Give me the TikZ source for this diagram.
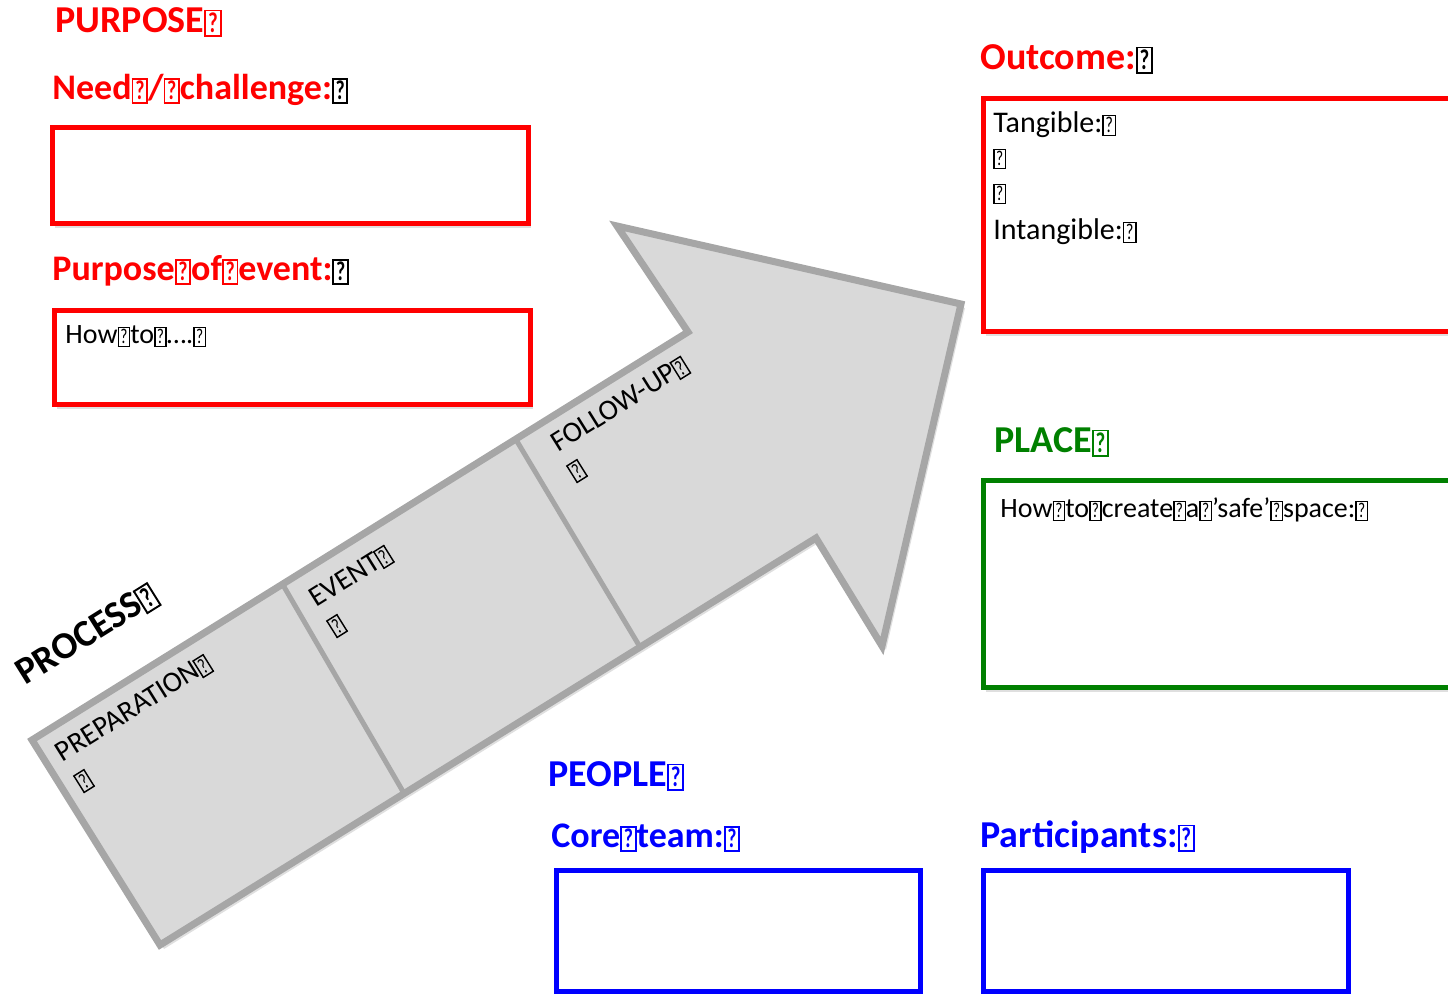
\documentclass[tikz,border=0pt]{standalone}
\usepackage{fontspec}
\setmainfont{Carlito}
\usepackage{graphicx}
\usetikzlibrary{shadows}

\definecolor{purposered}{RGB}{255,0,0}
\definecolor{placegreen}{RGB}{0,128,0}
\definecolor{peopleblue}{RGB}{0,0,255}
\definecolor{arrowfill}{RGB}{217,217,217}
\definecolor{arrowline}{RGB}{166,166,166}

% the little boxed question mark that stands in for the spaces
\newcommand{\qmark}{{\setlength{\fboxsep}{0.05em}\setlength{\fboxrule}{0.05em}\fbox{\scalebox{0.55}[0.75]{?}}}}

\tikzset{
    heading/.style={anchor=base west, inner sep=0pt, font=\bfseries\fontsize{18}{20}\selectfont},
    capsheading/.style={heading, font=\bfseries\fontsize{19}{21}\selectfont},
    bodytext/.style={anchor=base west, inner sep=0pt, font=\fontsize{14}{16}\selectfont},
    steptext/.style={anchor=base west, inner sep=0pt, rotate=32, font=\fontsize{14.5}{16}\selectfont},
    framebox/.style={line width=2.5pt, drop shadow={opacity=0.25, shadow xshift=1.5pt, shadow yshift=-2pt}},
}

\begin{document}
\begin{tikzpicture}[x=0.5pt, y=-0.5pt]
    \clip (0, 0) rectangle (1448, 994);

    % arrow
    \draw[fill=arrowfill, draw=arrowline, line width=3.5pt, line join=miter,
          drop shadow={opacity=0.25, shadow xshift=2pt, shadow yshift=-2pt}]
        (32, 740) -- (688, 332) -- (617, 226) -- (961, 304) -- (882, 646)
        -- (816, 538) -- (160, 945) -- cycle;
    \draw[draw=arrowline, line width=2.5pt] (283, 585) -- (405, 795);
    \draw[draw=arrowline, line width=2.5pt] (515, 438) -- (640, 647);

    \node[steptext] (prep) at (62, 763) {PREPARATION\qmark};
    \node[steptext] (prepq) at (82, 791) {\qmark};
    \node[steptext] (event) at (316, 608) {EVENT\qmark};
    \node[steptext] (eventq) at (335, 636) {\qmark};
    \node[steptext] (follow) at (558, 453) {FOLLOW-UP\qmark};
    \node[steptext] (followq) at (575, 481) {\qmark};
    \node[capsheading, rotate=32] (process) at (25, 686) {PROCESS\qmark};

    % purpose
    \node[capsheading, text=purposered] (purpose) at (55, 33) {PURPOSE\qmark};
    \node[heading, text=purposered] (need) at (52, 100) {Need\qmark/\qmark challenge:{\color{black}\qmark}};
    \draw[framebox, draw=purposered, fill=white] (52, 128) rectangle (528, 224);
    \node[heading, text=purposered] (aim) at (52, 281) {Purpose\qmark of\qmark event:{\color{black}\qmark}};
    \draw[framebox, draw=purposered, fill=white] (54, 311) rectangle (530, 405);
    \node[bodytext] (howto) at (65, 344) {How\qmark to\qmark ….\qmark};

    % outcome
    \node[capsheading, text=purposered] (outcome) at (980, 70) {Outcome:{\color{black}\qmark}};
    \draw[framebox, draw=purposered, fill=white] (983, 99) rectangle (1470, 332);
    \node[bodytext, font=\fontsize{15}{17}\selectfont] (tangible) at (993, 133) {Tangible:\qmark};
    \node[bodytext] (blankone) at (993, 166) {\qmark};
    \node[bodytext] (blanktwo) at (993, 201) {\qmark};
    \node[bodytext, font=\fontsize{15}{17}\selectfont] (intangible) at (993, 240) {Intangible:\qmark};

    % place
    \node[capsheading, text=placegreen] (place) at (994, 453) {PLACE\qmark};
    \draw[framebox, draw=placegreen, fill=white] (983, 481) rectangle (1470, 688);
    \node[bodytext] (safe) at (1000, 518) {How\qmark to\qmark create\qmark a\qmark ’safe’\qmark space:\qmark};

    % people
    \node[capsheading, text=peopleblue] (people) at (548, 787) {PEOPLE\qmark};
    \node[heading, text=peopleblue] (core) at (551, 848) {Core\qmark team:\qmark};
    \draw[framebox, draw=peopleblue, fill=white] (556, 871) rectangle (920, 991);
    \node[capsheading, text=peopleblue] (part) at (980, 848) {Participants:\qmark};
    \draw[framebox, draw=peopleblue, fill=white] (983, 871) rectangle (1348, 991);
\end{tikzpicture}
\end{document}
